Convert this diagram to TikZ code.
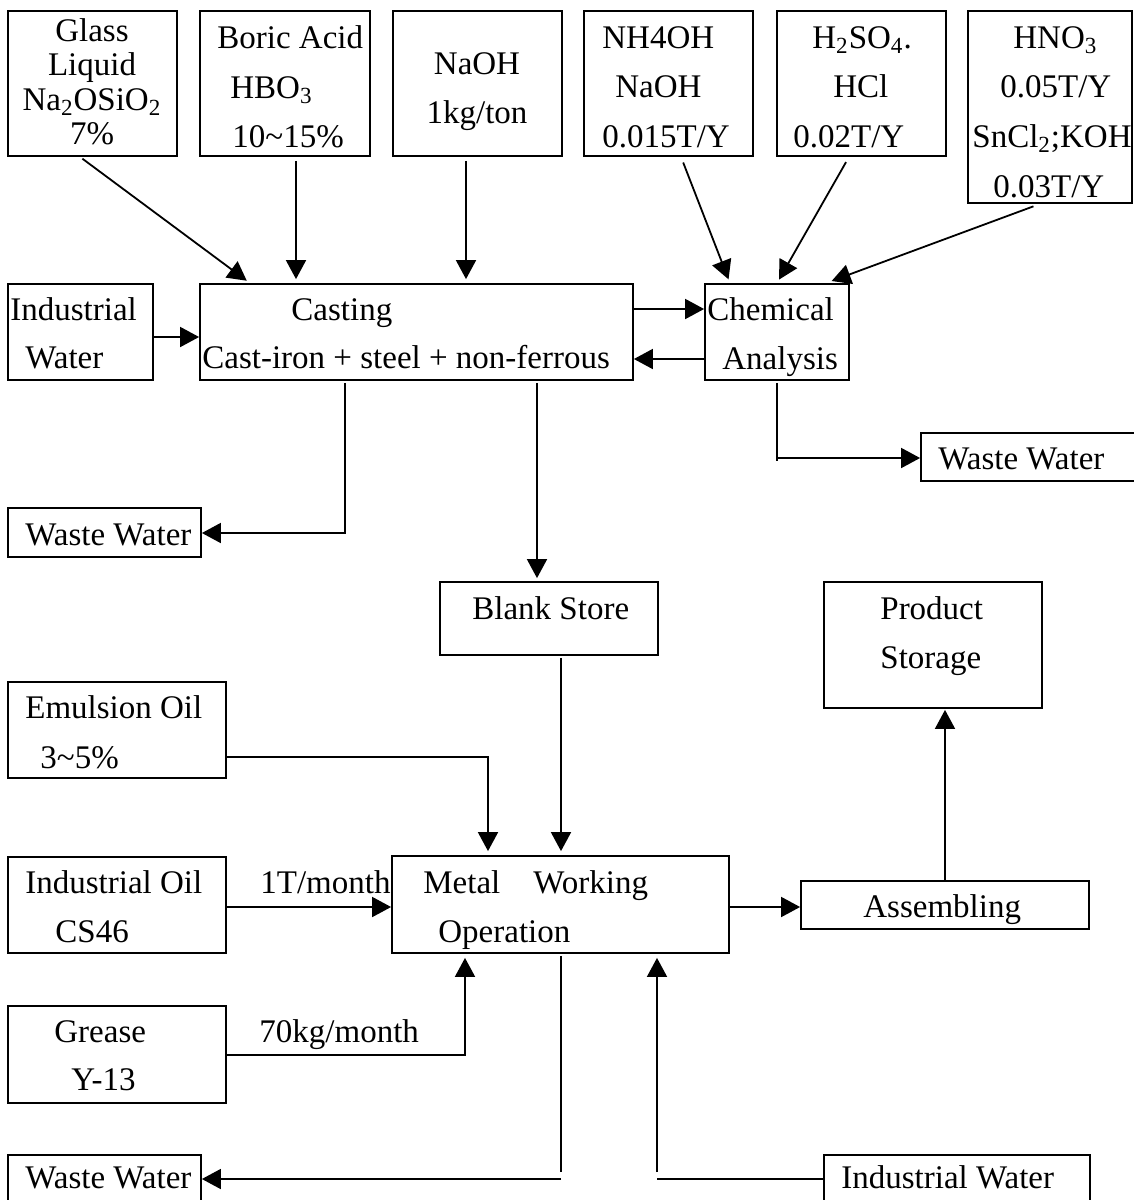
\documentclass[tikz,border=0pt]{standalone}
\usepackage{fontspec}
\setmainfont{Liberation Serif}
\usetikzlibrary{arrows.meta,fit}

% one line of text, placed by its baseline
\newcommand\putline[5]{\node[lbl, anchor=#1] (#2) at (#3,#4) {#5};}

\begin{document}
\begin{tikzpicture}[x=0.5pt,y=-0.5pt,
  box/.style={draw, line width=0.9pt, inner sep=0pt},
  lbl/.style={inner sep=0pt, font=\fontsize{16.5}{20}\selectfont},
  ln/.style={line width=0.9pt},
  arr/.style={line width=0.9pt, -{Triangle[length=9.5pt,width=10pt]}},
]
\useasboundingbox (0,0) rectangle (1134,1200);

% ---------- additives (top row) ----------
\node[box, fit={(8,11) (177,156)}] (glass) {};
\node[box, fit={(200,11) (370,156)}] (boric) {};
\node[box, fit={(393,11) (562,156)}] (naoh) {};
\node[box, fit={(584,11) (753,156)}] (nh4oh) {};
\node[box, fit={(777,11) (946,156)}] (acids) {};
\node[box, fit={(968,11) (1132,203)}] (hno3) {};

\putline{base}{gl1}{92}{41}{Glass}
\putline{base}{gl2}{92}{75}{Liquid}
\putline{base}{gl3}{92}{110}{Na\textsubscript{2}OSiO\textsubscript{2}}
\putline{base}{gl4}{92}{144}{7\%}

\putline{base west}{bo1}{217}{48}{Boric Acid}
\putline{base west}{bo2}{230}{98}{HBO\textsubscript{3}}
\putline{base west}{bo3}{232}{147}{10\textasciitilde15\%}

\putline{base}{na1}{477}{74}{NaOH}
\putline{base}{na2}{477}{123}{1kg/ton}

\putline{base west}{nh1}{602}{48}{NH4OH}
\putline{base west}{nh2}{615}{97}{NaOH}
\putline{base west}{nh3}{602}{147}{0.015T/Y}

\putline{base west}{ac1}{812}{48}{H\textsubscript{2}SO\textsubscript{4}.}
\putline{base west}{ac2}{833}{97}{HCl}
\putline{base west}{ac3}{793}{147}{0.02T/Y}

\putline{base west}{hn1}{1013}{48}{HNO\textsubscript{3}}
\putline{base west}{hn2}{1000}{97}{0.05T/Y}
\putline{base west}{hn3}{972}{147}{SnCl\textsubscript{2};KOH}
\putline{base west}{hn4}{993}{197}{0.03T/Y}

% ---------- casting stage ----------
\node[box, fit={(8,284) (153,380)}] (iwa) {};
\node[box, fit={(200,284) (633,380)}] (casting) {};
\node[box, fit={(705,284) (849,380)}] (chem) {};
\node[box, fit={(921,433) (1140,481)}] (wwa) {};
\node[box, fit={(8,508) (201,557)}] (wwb) {};

\putline{base west}{iw1}{10}{320}{Industrial}
\putline{base west}{iw2}{25}{368}{Water}
\putline{base west}{ca1}{291}{320}{Casting}
\putline{base west}{ca2}{202}{368}{Cast-iron + steel + non-ferrous}
\putline{base west}{ch1}{707}{320}{Chemical}
\putline{base west}{ch2}{722}{369}{Analysis}
\putline{base west}{wa1}{938}{469}{Waste Water}
\putline{base west}{wb1}{25}{545}{Waste Water}

% ---------- machining and assembly ----------
\node[box, fit={(440,582) (658,655)}] (blank) {};
\node[box, fit={(824,582) (1042,708)}] (product) {};
\node[box, fit={(8,682) (226,778)}] (emul) {};
\node[box, fit={(8,857) (226,953)}] (ioil) {};
\node[box, fit={(392,856) (729,953)}] (metal) {};
\node[box, fit={(801,881) (1089,929)}] (assem) {};
\node[box, fit={(8,1006) (226,1103)}] (grease) {};
\node[box, fit={(8,1155) (201,1215)}] (wwc) {};
\node[box, fit={(824,1155) (1090,1215)}] (iwb) {};

\putline{base west}{bl1}{472}{619}{Blank Store}
\putline{base west}{pr1}{880}{619}{Product}
\putline{base west}{pr2}{880}{668}{Storage}
\putline{base west}{em1}{25}{718}{Emulsion Oil}
\putline{base west}{em2}{40}{768}{3\textasciitilde5\%}
\putline{base west}{io1}{25}{893}{Industrial Oil}
\putline{base west}{io2}{55}{942}{CS46}
\putline{base west}{qt1}{260}{893}{1T/month}
\putline{base west}{me1}{423}{893}{Metal\quad Working}
\putline{base west}{me2}{438}{942}{Operation}
\putline{base west}{as1}{863}{917}{Assembling}
\putline{base west}{gr1}{54}{1042}{Grease}
\putline{base west}{gr2}{71}{1090}{Y-13}
\putline{base west}{qt2}{259}{1042}{70kg/month}
\putline{base west}{wc1}{25}{1188}{Waste Water}
\putline{base west}{ib1}{841}{1188}{Industrial Water}

% ---------- connectors: additives ----------
\draw[arr, shorten <=1.5pt, shorten >=2pt] (80,0 |- glass.south) -- (250,0 |- casting.north);
\draw[arr, shorten <=2pt, shorten >=2pt] (296,0 |- boric.south) -- (296,0 |- casting.north);
\draw[arr, shorten <=2pt, shorten >=2pt] (466,0 |- naoh.south) -- (466,0 |- casting.north);
\draw[arr, shorten <=3pt, shorten >=2pt] (681,0 |- nh4oh.south) -- (730,0 |- chem.north);
\draw[arr, shorten <=3pt, shorten >=2pt] (849,0 |- acids.south) -- (777,0 |- chem.north);
\draw[arr, shorten <=3.5pt, shorten >=3pt] (1040,0 |- hno3.south) -- (826,0 |- chem.north);

% ---------- connectors: casting stage ----------
\draw[arr] (iwa.east |- 0,337) -- (casting.west |- 0,337);
\draw[arr] (casting.east |- 0,309) -- (chem.west |- 0,309);
\draw[arr] (chem.west |- 0,359) -- (casting.east |- 0,359);
\draw[ln] (777,0 |- chem.south) ++(0,2) -- (777,461);
\draw[arr] (777,458) -- (wwa.west |- 0,458);
\draw[arr, shorten <=1pt] (345,0 |- casting.south) -- (345,533) -- (wwb.east |- 0,533);
\draw[arr, shorten <=1pt, shorten >=1.5pt] (537,0 |- casting.south) -- (537,0 |- blank.north);

% ---------- connectors: machining and assembly ----------
\draw[arr, shorten <=1pt, shorten >=2pt] (561,0 |- blank.south) -- (561,0 |- metal.north);
\draw[arr, shorten >=2pt] (emul.east |- 0,757) -- (488,757) -- (488,0 |- metal.north);
\draw[arr] (ioil.east |- 0,907) -- (metal.west |- 0,907);
\draw[arr, shorten >=2pt] (grease.east |- 0,1055) -- (465,1055) -- (465,0 |- metal.south);
\draw[arr] (metal.east |- 0,907) -- (assem.west |- 0,907);
\draw[arr, shorten >=0.5pt] (945,0 |- assem.north) -- (945,0 |- product.south);
\draw[ln, shorten <=1pt] (561,0 |- metal.south) -- (561,1172);
\draw[arr] (561,1179) -- (wwc.east |- 0,1179);
\draw[ln] (iwb.west |- 0,1179) -- (657,1179);
\draw[arr, shorten >=2pt] (657,1172) -- (657,0 |- metal.south);
\end{tikzpicture}
\end{document}
